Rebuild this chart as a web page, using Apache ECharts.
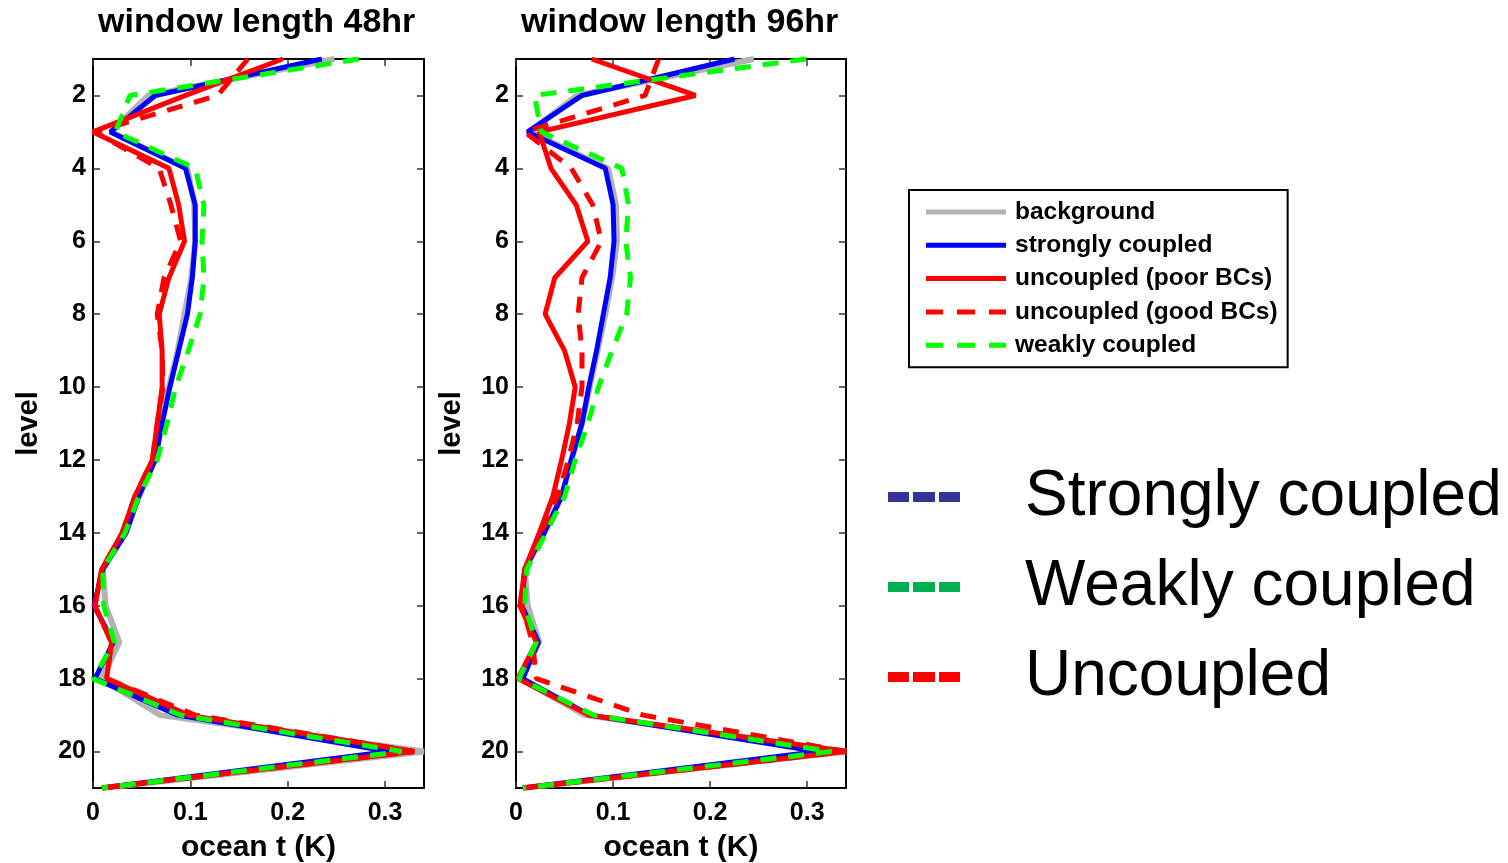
<!DOCTYPE html>
<html>
<head>
<meta charset="utf-8">
<script src="https://cdn.jsdelivr.net/npm/echarts@6/dist/echarts.min.js"></script>
<style>
  html, body { margin: 0; padding: 0; background: #fff; }
  #main { width: 1508px; height: 863px; }
</style>
</head>
<body>
<div id="main"></div>
<script>
const fontFamily = 'Liberation Sans, Arial, Helvetica, sans-serif';

// levels 1..21 (y axis), values are ocean t (K)
const levels = [1, 2, 3, 4, 5, 6, 7, 8, 9, 10, 11, 12, 13, 14, 15, 16, 17, 18, 19, 20, 21];
const xTicks = [0, 0.1, 0.2, 0.3];
const levelTicks = [2, 4, 6, 8, 10, 12, 14, 16, 18, 20];

// window length 48hr
const bg48 = [0.248, 0.057, 0.018, 0.097, 0.104, 0.105, 0.101, 0.094, 0.087, 0.078, 0.070, 0.063, 0.047, 0.033, 0.010, 0.013, 0.027, 0.009, 0.069, 0.340, 0.010];
const strong48 = [0.235, 0.064, 0.018, 0.095, 0.105, 0.105, 0.102, 0.097, 0.088, 0.079, 0.071, 0.064, 0.047, 0.034, 0.010, 0.001, 0.021, 0.002, 0.087, 0.304, 0.009];
const poor48 = [0.195, 0.095, 0.000, 0.078, 0.088, 0.094, 0.078, 0.068, 0.071, 0.071, 0.066, 0.061, 0.043, 0.030, 0.009, 0.002, 0.019, 0.014, 0.098, 0.330, 0.009];
const good48 = [0.159, 0.128, 0.002, 0.068, 0.080, 0.090, 0.073, 0.066, 0.071, 0.072, 0.066, 0.061, 0.043, 0.030, 0.009, 0.002, 0.019, 0.014, 0.105, 0.330, 0.009];
const weak48 = [0.273, 0.038, 0.023, 0.105, 0.114, 0.112, 0.114, 0.110, 0.098, 0.085, 0.076, 0.066, 0.047, 0.033, 0.010, 0.011, 0.022, 0.000, 0.090, 0.317, 0.009];

// window length 96hr
const bg96 = [0.245, 0.063, 0.014, 0.095, 0.103, 0.104, 0.099, 0.092, 0.084, 0.076, 0.068, 0.057, 0.047, 0.029, 0.009, 0.012, 0.024, 0.004, 0.071, 0.340, 0.007];
const strong96 = [0.225, 0.068, 0.012, 0.092, 0.100, 0.101, 0.097, 0.090, 0.083, 0.075, 0.068, 0.057, 0.047, 0.029, 0.009, 0.006, 0.023, 0.007, 0.076, 0.311, 0.007];
const poor96 = [0.078, 0.185, 0.024, 0.036, 0.062, 0.074, 0.040, 0.030, 0.050, 0.061, 0.055, 0.047, 0.038, 0.024, 0.009, 0.004, 0.021, 0.002, 0.075, 0.340, 0.007];
const good96 = [0.147, 0.133, 0.009, 0.057, 0.079, 0.088, 0.068, 0.064, 0.068, 0.068, 0.063, 0.054, 0.043, 0.026, 0.009, 0.006, 0.017, 0.021, 0.131, 0.340, 0.007];
const weak96 = [0.299, 0.019, 0.026, 0.109, 0.116, 0.113, 0.118, 0.114, 0.099, 0.085, 0.074, 0.061, 0.050, 0.031, 0.011, 0.009, 0.021, 0.003, 0.080, 0.325, 0.007];

const seriesNames = ['background', 'strongly coupled', 'uncoupled (poor BCs)', 'uncoupled (good BCs)', 'weakly coupled'];
const bigNames = ['Strongly coupled', 'Weakly coupled', 'Uncoupled'];

const dash = [16, 12];
const styles = {
    'background': { color: '#b3b3b3', width: 6, type: 'solid' },
    'strongly coupled': { color: '#0000ff', width: 5, type: 'solid' },
    'uncoupled (poor BCs)': { color: '#ff0000', width: 5, type: 'solid' },
    'uncoupled (good BCs)': { color: '#ff0000', width: 5, type: dash },
    'weakly coupled': { color: '#00ff00', width: 5, type: dash }
};

const axisLine = { show: true, onZero: false, lineStyle: { color: '#000', width: 2 } };
const tickStyle = { color: '#333', width: 1.5 };
const labelStyle = { fontSize: 25, fontWeight: 'bold', color: '#000', fontFamily: fontFamily };
const nameStyle = { fontSize: 29, fontWeight: 'bold', color: '#000', fontFamily: fontFamily };

const xAxes = (g) => [
    {
        type: 'value', gridIndex: g, min: 0, max: 0.34, position: 'bottom',
        axisLine: axisLine,
        axisTick: { show: true, inside: true, length: 7, customValues: xTicks, lineStyle: tickStyle },
        axisLabel: Object.assign({ customValues: xTicks, margin: 13 }, labelStyle),
        splitLine: { show: false },
        name: 'ocean t (K)', nameLocation: 'middle', nameGap: 45, nameTextStyle: Object.assign({}, nameStyle, { fontSize: 30 })
    },
    {
        type: 'value', gridIndex: g, min: 0, max: 0.34, position: 'top',
        axisLine: axisLine,
        axisTick: { show: true, inside: true, length: 7, customValues: xTicks, lineStyle: tickStyle },
        axisLabel: { show: false },
        splitLine: { show: false }
    }
];

const yAxes = (g) => [
    {
        type: 'value', gridIndex: g, min: 1, max: 21, inverse: true, position: 'left',
        axisLine: axisLine,
        axisTick: { show: true, inside: true, length: 7, customValues: levelTicks, lineStyle: tickStyle },
        axisLabel: Object.assign({ customValues: levelTicks, margin: 7, padding: [2, 0, 0, 0] }, labelStyle),
        splitLine: { show: false },
        name: 'level', nameLocation: 'middle', nameGap: 50, nameRotate: 90, nameTextStyle: nameStyle
    },
    {
        type: 'value', gridIndex: g, min: 1, max: 21, inverse: true, position: 'right',
        axisLine: axisLine,
        axisTick: { show: true, inside: true, length: 7, customValues: levelTicks, lineStyle: tickStyle },
        axisLabel: { show: false },
        splitLine: { show: false }
    }
];

const makeSeries = (name, values, g) => ({
    name: name,
    type: 'line',
    xAxisIndex: g * 2,
    yAxisIndex: g * 2,
    symbol: 'none',
    data: values.map((v, i) => [v, levels[i]]),
    lineStyle: { color: styles[name].color, width: styles[name].width, type: styles[name].type, cap: 'butt' },
    itemStyle: { color: styles[name].color }
});

const panel48 = [bg48, strong48, poor48, good48, weak48];
const panel96 = [bg96, strong96, poor96, good96, weak96];

const series = [];
seriesNames.forEach((n, i) => series.push(makeSeries(n, panel48[i], 0)));
seriesNames.forEach((n, i) => series.push(makeSeries(n, panel96[i], 1)));
// empty series, only there for the second legend
const bigColors = ['#333399', '#00b050', '#ff0000'];
bigNames.forEach((n, i) => series.push({
    name: n, type: 'line', xAxisIndex: 0, yAxisIndex: 0, data: [], symbol: 'none',
    itemStyle: { color: bigColors[i] }, lineStyle: { color: bigColors[i] }
}));

const dashIcon = 'path://M0,0h17v5h-17z M31,0h18v5h-18z M63,0h17v5h-17z';
const bigDashIcon = 'path://M0,0h21v10h-21z M25,0h22v10h-22z M51,0h21v10h-21z';

const titleStyle = { fontSize: 34, fontWeight: 'bold', color: '#000', fontFamily: fontFamily };

const option = {
    animation: false,
    backgroundColor: '#fff',
    title: [
        { text: 'window length 48hr', left: 98, top: 6, padding: 0, textStyle: titleStyle },
        { text: 'window length 96hr', left: 521, top: 6, padding: 0, textStyle: titleStyle }
    ],
    grid: [
        { left: 93, top: 59, width: 331, height: 729, outerBoundsMode: 'none' },
        { left: 516, top: 59, width: 330, height: 729, outerBoundsMode: 'none' }
    ],
    xAxis: xAxes(0).concat(xAxes(1)),
    yAxis: yAxes(0).concat(yAxes(1)),
    legend: [
        {
            orient: 'vertical', left: 909, top: 190,
            borderColor: '#000', borderWidth: 2, padding: [8, 10, 8, 17],
            itemWidth: 80, itemHeight: 5, itemGap: 5.3,
            selectedMode: false,
            itemStyle: { borderWidth: 0 },
            textStyle: { fontSize: 24.5, fontWeight: 'bold', color: '#000', fontFamily: fontFamily, lineHeight: 28, padding: [0, 0, 0, 4] },
            data: seriesNames.map((n) => ({
                name: n,
                icon: styles[n].type === 'solid' ? 'rect' : dashIcon,
                itemStyle: { color: styles[n].color, borderWidth: 0 }
            }))
        },
        {
            orient: 'vertical', left: 888, top: 461, padding: 0,
            itemWidth: 72, itemHeight: 10, itemGap: 18,
            selectedMode: false,
            itemStyle: { borderWidth: 0 },
            textStyle: { fontSize: 64, color: '#000', fontFamily: fontFamily, lineHeight: 72, padding: [0, 0, 0, 60] },
            data: bigNames.map((n, i) => ({ name: n, icon: bigDashIcon, itemStyle: { color: bigColors[i], borderWidth: 0 } }))
        }
    ],
    series: series
};

const chart = echarts.init(document.getElementById('main'));
chart.setOption(option);
</script>
</body>
</html>
